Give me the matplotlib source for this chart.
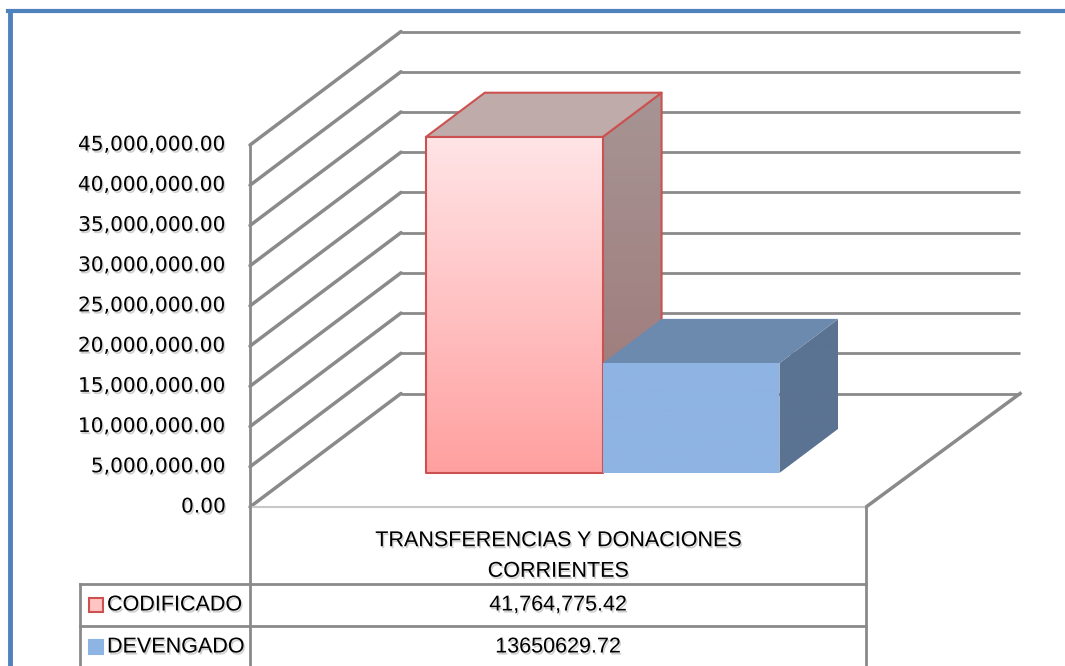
import numpy as np
import matplotlib
matplotlib.use('Agg')
import matplotlib.pyplot as plt
from matplotlib.patches import Polygon, Rectangle
import matplotlib.patheffects as pe

# data
categories = ['TRANSFERENCIAS Y DONACIONES\nCORRIENTES']
series = ['CODIFICADO', 'DEVENGADO']
values = [41764775.42, 13650629.72]
value_labels = ['41,764,775.42', '13650629.72']
yticks = [0, 5000000, 10000000, 15000000, 20000000, 25000000,
          30000000, 35000000, 40000000, 45000000]

# colours
front_top = ['#FFE4E6', '#8EB4E3']
front_bot = ['#FFA0A0', '#8EB4E3']
top_col = ['#C0ABAB', '#6C89AE']
side_top = ['#A79494', '#5B7392']
side_bot = ['#9E7676', '#5B7392']
edge_col = ['#CB5250', 'none']
grid_col = '#8A8A8A'

W, H = 1065, 666
# front plane in pixels
X0, XW = 250, 616
Y0, YH = 507, 362
VMAX = 45000000.0
DX = 151 / XW                 # depth shift in category units
DY = 113.5 * VMAX / YH        # depth shift in value units

fig = plt.figure(figsize=(W / 100, H / 100), dpi=100)
ax = fig.add_axes([0, 0, 1, 1])
ax.set_xlim(-X0 / XW, (W - X0) / XW)
ax.set_ylim((Y0 - H) * VMAX / YH, Y0 * VMAX / YH)
ax.axis('off')


def proj(c, v, d):
    return (c + d * DX, v + d * DY)


def px(x, y):
    # pixel (from top-left) -> data
    return ((x - X0) / XW, (Y0 - y) * VMAX / YH)


shadow = [pe.withSimplePatchShadow(offset=(1, -1.5), shadow_rgbFace='#777777', alpha=0.35)]


def grad_poly(pts, c_top, c_bot, z, ec='none', lw=1.5):
    poly = Polygon(pts, closed=True, facecolor='none', edgecolor=ec, lw=lw, zorder=z + 0.1,
                   joinstyle='round')
    ax.add_patch(poly)
    xs = [p[0] for p in pts]
    ys = [p[1] for p in pts]
    t = np.linspace(0, 1, 64)[:, None]
    a = np.array(matplotlib.colors.to_rgb(c_top))
    b = np.array(matplotlib.colors.to_rgb(c_bot))
    img = (a * (1 - t) + b * t)[:, None, :]
    im = ax.imshow(img, extent=(min(xs), max(xs), min(ys), max(ys)), origin='upper',
                   aspect='auto', zorder=z, interpolation='bilinear')
    im.set_clip_path(poly)
    return poly


# walls and gridlines
for t in yticks:
    b0 = proj(0, t, 1)
    b1 = proj(1.005, t, 1)
    f0 = proj(0, t, 0)
    ax.plot([b0[0], b1[0]], [b0[1], b1[1]], color=grid_col, lw=2, zorder=1,
            solid_capstyle='butt')
    ax.plot([f0[0], b0[0]], [f0[1], b0[1]], color=grid_col, lw=2.5, zorder=1,
            solid_capstyle='round')
    ax.text(px(226, 0)[0], f0[1], f'{t:,.2f}', ha='right', va='center',
            fontsize=14.5, family='DejaVu Sans', color='black', path_effects=shadow)

# floor right edge and front edge
fr0 = proj(1, 0, 0)
fr1 = proj(1.005, 0, 1)
ax.plot([fr0[0], fr1[0]], [fr0[1], fr1[1]], color=grid_col, lw=2.5, zorder=1)
ax.plot([0, 1], [0, 0], color='#C8C8C8', lw=1.5, zorder=1)
# front axis line
top = proj(0, VMAX, 0)
ax.plot([0, 0], [px(0, H + 5)[1], top[1]], color=grid_col, lw=2, zorder=1)

# bars
bw = 0.287
c_start = 0.212
d1, d2 = 0.30, 0.69
for i, v in enumerate(values):
    cl = c_start + i * bw
    cr = cl + bw
    front = [proj(cl, 0, d1), proj(cr, 0, d1), proj(cr, v, d1), proj(cl, v, d1)]
    topf = [proj(cl, v, d1), proj(cr, v, d1), proj(cr, v, d2), proj(cl, v, d2)]
    side = [proj(cr, 0, d1), proj(cr, v, d1), proj(cr, v, d2), proj(cr, 0, d2)]
    z = 2 + i
    grad_poly(side, side_top[i], side_bot[i], z, ec=edge_col[i])
    ax.add_patch(Polygon(topf, closed=True, facecolor=top_col[i], edgecolor=edge_col[i],
                         lw=1.5, zorder=z + 0.1, joinstyle='round'))
    grad_poly(front, front_top[i], front_bot[i], z + 0.2, ec=edge_col[i])

# data table
tl = '#8A8A8A'
for y in [584, 626]:
    a, b = px(80, y), px(866, y)
    ax.plot([a[0], b[0]], [a[1], b[1]], color=tl, lw=2, zorder=1)
a, b = px(80, 584), px(80, H + 5)
ax.plot([a[0], b[0]], [a[1], b[1]], color=tl, lw=2, zorder=1)
a, b = px(866, 507), px(866, H + 5)
ax.plot([a[0], b[0]], [a[1], b[1]], color=tl, lw=2, zorder=1)

tfont = 'Liberation Sans'
ax.text(0.5, px(0, 556)[1], categories[0], ha='center', va='center', fontsize=15.5,
        family=tfont, linespacing=1.6, path_effects=shadow)
row_y = [605, 647]
key_fc = ['#FFC4C4', '#8EB4E3']
key_ec = ['#CB5250', '#8EB4E3']
for i, name in enumerate(series):
    ax.text(px(107, 0)[0], px(0, row_y[i])[1], name, ha='left', va='center', fontsize=15.5,
            family=tfont, path_effects=shadow)
    ax.text(0.5, px(0, row_y[i])[1], value_labels[i], ha='center', va='center', fontsize=15.5,
            family=tfont, path_effects=shadow)
    k0 = px(89, row_y[i] + 7)
    k1 = px(103, row_y[i] - 7)
    ax.add_patch(Rectangle(k0, k1[0] - k0[0], k1[1] - k0[1], facecolor=key_fc[i],
                           edgecolor=key_ec[i], lw=1.5, zorder=3))

# outer border
fig.add_artist(plt.Line2D([9.5 / W, 9.5 / W], [0, 1 - 10.5 / H], color='#4F81BD', lw=3.5,
                          transform=fig.transFigure))
fig.add_artist(plt.Line2D([7.5 / W, 1], [1 - 10.5 / H, 1 - 10.5 / H], color='#4F81BD', lw=3,
                          transform=fig.transFigure))

fig.savefig('out.png', dpi=100)
